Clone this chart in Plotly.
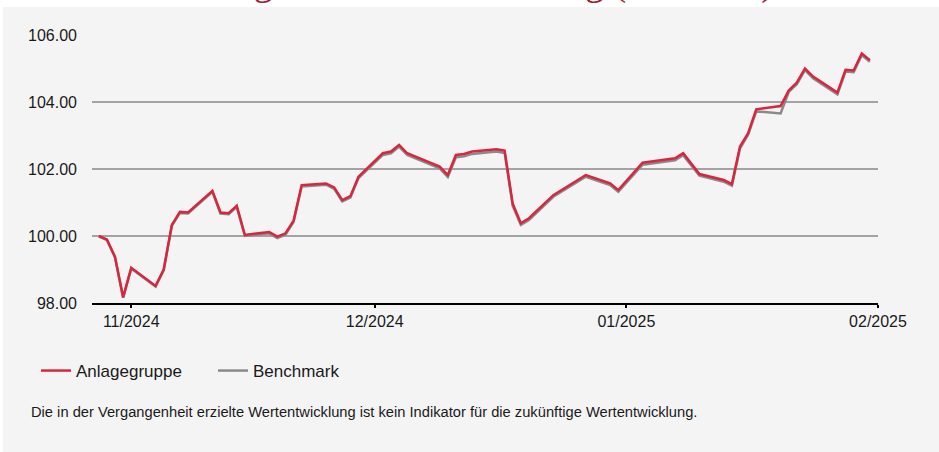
import plotly.graph_objects as go

dates = [
    "2024-10-28", "2024-10-29", "2024-10-30", "2024-10-31", "2024-11-01",
    "2024-11-04", "2024-11-05", "2024-11-06", "2024-11-07", "2024-11-08",
    "2024-11-11", "2024-11-12", "2024-11-13", "2024-11-14", "2024-11-15",
    "2024-11-18", "2024-11-19", "2024-11-20", "2024-11-21", "2024-11-22",
    "2024-11-25", "2024-11-26", "2024-11-27", "2024-11-28", "2024-11-29",
    "2024-12-02", "2024-12-03", "2024-12-04", "2024-12-05", "2024-12-09",
    "2024-12-10", "2024-12-11", "2024-12-12", "2024-12-13", "2024-12-16",
    "2024-12-17", "2024-12-18", "2024-12-19", "2024-12-20", "2024-12-23",
    "2024-12-27", "2024-12-30", "2024-12-31", "2025-01-03", "2025-01-07",
    "2025-01-08", "2025-01-10", "2025-01-13", "2025-01-14", "2025-01-15",
    "2025-01-16", "2025-01-17", "2025-01-20", "2025-01-21", "2025-01-22",
    "2025-01-23", "2025-01-24", "2025-01-27", "2025-01-28", "2025-01-29",
    "2025-01-30", "2025-01-31",
]

anlagegruppe = [
    100.00, 99.90, 99.38, 98.17, 99.05,
    98.51, 99.00, 100.33, 100.72, 100.70,
    101.35, 100.70, 100.68, 100.90, 100.03,
    100.12, 99.98, 100.08, 100.46, 101.52,
    101.57, 101.45, 101.07, 101.19, 101.77,
    102.47, 102.52, 102.72, 102.47, 102.07,
    101.82, 102.42, 102.45, 102.52, 102.59,
    102.55, 100.96, 100.38, 100.53, 101.22,
    101.82, 101.57, 101.37, 102.19, 102.32,
    102.47, 101.85, 101.67, 101.55, 102.67,
    103.07, 103.78, 103.88, 104.34, 104.58,
    105.00, 104.76, 104.28, 104.96, 104.94,
    105.45, 105.25,
]

benchmark = [
    99.99, 99.88, 99.36, 98.16, 99.03,
    98.49, 98.98, 100.30, 100.69, 100.67,
    101.32, 100.67, 100.65, 100.87, 100.00,
    100.08, 99.94, 100.04, 100.42, 101.48,
    101.53, 101.41, 101.03, 101.15, 101.73,
    102.42, 102.47, 102.67, 102.42, 102.02,
    101.76, 102.35, 102.38, 102.45, 102.52,
    102.48, 100.90, 100.33, 100.48, 101.17,
    101.77, 101.52, 101.32, 102.13, 102.26,
    102.41, 101.80, 101.62, 101.50, 102.62,
    103.02, 103.72, 103.66, 104.30, 104.53,
    104.95, 104.71, 104.23, 104.91, 104.89,
    105.40, 105.20,
]

tick_dates = ["2024-11-01", "2024-12-01", "2025-01-01", "2025-02-01"]
tick_labels = ["11/2024", "12/2024", "01/2025", "02/2025"]
y_ticks = [98, 100, 102, 104, 106]

BG = "#f4f4f4"
RED = "#d7263d"
GRAY = "#8a8a8a"
FONT = "Liberation Sans, Arial, sans-serif"

fig = go.Figure()
fig.add_trace(go.Scatter(x=dates, y=benchmark, mode="lines", name="Benchmark",
                         line=dict(color=GRAY, width=2.5)))
fig.add_trace(go.Scatter(x=dates, y=anlagegruppe, mode="lines", name="Anlagegruppe",
                         line=dict(color=RED, width=2.5)))

W, H = 939, 452
L, T = 92, 35
R, B = W - 878, H - 303
pw, ph = W - L - R, H - T - B

def px(xp):
    return (xp - L) / pw

def py(yp):
    return 1 - (yp - T) / ph

fig.update_layout(
    width=W, height=H,
    margin=dict(l=L, r=R, t=T, b=B, autoexpand=False),
    paper_bgcolor="#ffffff", plot_bgcolor=BG,
    font=dict(family=FONT, size=16, color="#1a1a1a"),
    showlegend=True,
    legend=dict(orientation="h", x=px(36), y=py(371), xanchor="left", yanchor="middle",
                traceorder="reversed", font=dict(size=17, color="#1a1a1a"),
                bgcolor="rgba(0,0,0,0)", entrywidth=132, entrywidthmode="pixels"),
    xaxis=dict(type="date", range=["2024-10-27 04:00", "2025-02-01"],
               tickvals=tick_dates, ticktext=tick_labels,
               showgrid=False, showline=True, linecolor="#000000", linewidth=1.5,
               ticks="outside", ticklen=3, tickwidth=1.5, tickcolor="#000000",
               tickfont=dict(size=16, color="#1a1a1a"), zeroline=False),
    yaxis=dict(range=[98, 106], tickvals=y_ticks, tickformat=".2f",
               showgrid=True, gridcolor="#a3a3a3", gridwidth=1.5,
               zeroline=False, showline=False, ticks="",
               ticklabelstandoff=14, tickfont=dict(size=16, color="#1a1a1a")),
    shapes=[
        dict(type="rect", xref="paper", yref="paper", x0=px(3), x1=px(W + 20),
             y0=py(H + 20), y1=py(7), fillcolor=BG, line=dict(width=0), layer="below"),
    ],
    annotations=[
        dict(text="Wertentwicklung seit Markteinführung (indexiert)", xref="paper", yref="paper",
             x=px(10), y=py(6), xanchor="left", yanchor="bottom", showarrow=False,
             font=dict(family="Liberation Serif, Times New Roman, serif", size=38, color="#a41f35")),
        dict(text="Die in der Vergangenheit erzielte Wertentwicklung ist kein Indikator für die zukünftige Wertentwicklung.",
             xref="paper", yref="paper", x=px(29), y=py(412), xanchor="left", yanchor="middle",
             showarrow=False, font=dict(size=14.7, color="#1a1a1a")),
    ],
)

fig.write_html("out.html", config={"displayModeBar": False},
               post_script="document.body.style.margin = '0px';")
